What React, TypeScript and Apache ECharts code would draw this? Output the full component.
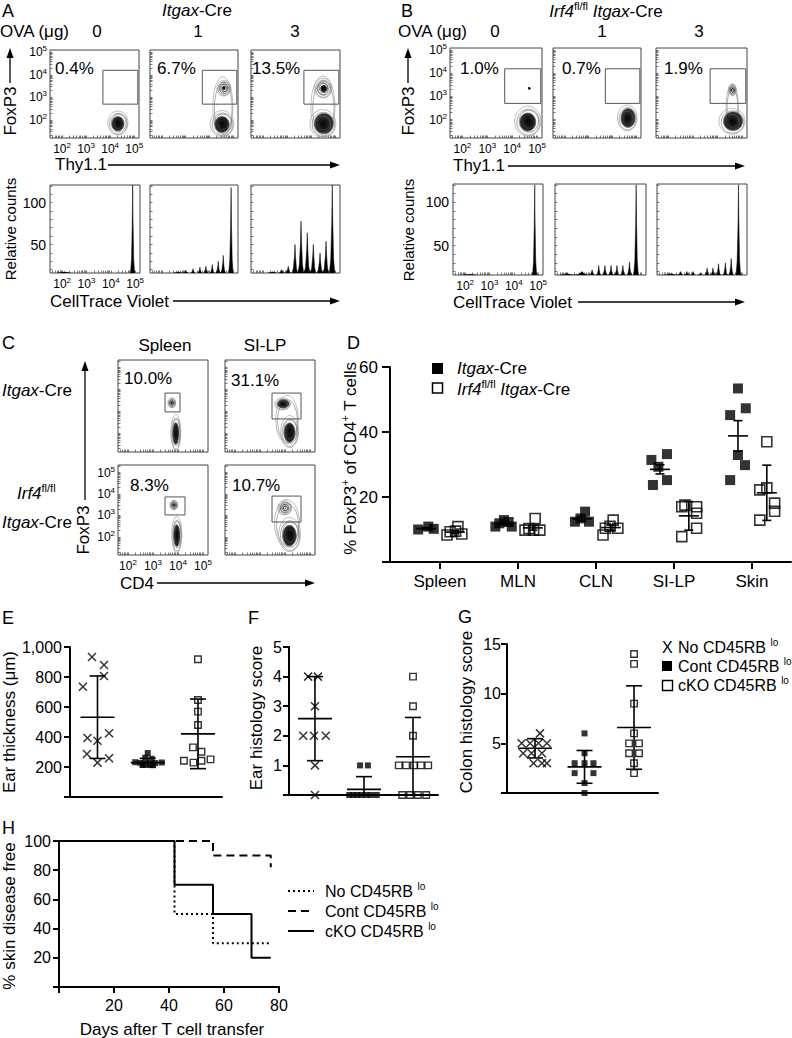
import React, { useEffect, useRef } from 'react';
import * as echarts from 'echarts';

const FONT = '"Liberation Sans", Arial, Helvetica, sans-serif';

// ================= DATA =================
// ---- Panels A / B : OVA dose response (log10 units) ----
const ovaDoses = ['0', '1', '3'];
const percentA = ['0.4%', '6.7%', '13.5%'];
const percentB = ['1.0%', '0.7%', '1.9%'];
const gateAB = [3.7, 2.7, 5.15, 4.2];
// contour populations: [Thy1.1, FoxP3, spread x, spread y, density]
const contoursA = [
  [[4.34, 1.85, 0.42, 0.53, 0.6]],
  [[4.58, 2.55, 0.42, 1.32, 0], [4.55, 1.82, 0.5, 0.58, 0.6], [4.62, 3.4, 0.29, 0.35, 0.15]],
  [[4.51, 2.55, 0.5, 1.36, 0], [4.51, 1.82, 0.54, 0.62, 0.65], [4.51, 3.4, 0.37, 0.44, 0.3]],
];
const contoursB = [
  [[4.65, 1.91, 0.53, 0.65, 0.6], [4.69, 3.35, 0.03, 0.03, 1]],
  [[4.64, 2.05, 0.41, 0.56, 0.65]],
  [[4.61, 2.5, 0.25, 1.0, 0], [4.61, 1.91, 0.53, 0.56, 0.65], [4.61, 3.28, 0.16, 0.26, 0.01]],
];
// histogram peaks: [CellTrace Violet log10, relative count, half width]
const histA = [
  [[4.9, 122, 0.09], [2.1, 17.5, 0.3]],
  [[4.91, 118, 0.1], [4.58, 37, 0.11], [4.37, 30, 0.1], [4.12, 26, 0.1], [3.85, 24, 0.1], [3.6, 23, 0.1], [3.31, 21, 0.1], [3.01, 19, 0.12], [2.7, 17.5, 0.2]],
  [[4.88, 121, 0.12], [4.62, 54, 0.13], [4.37, 40, 0.13], [4.09, 50, 0.13], [3.84, 64, 0.13], [3.58, 78, 0.13], [3.33, 50, 0.13], [3.05, 24, 0.13], [2.78, 20, 0.13], [2.4, 17.5, 0.2]],
];
const histB = [
  [[4.86, 120, 0.09], [2.2, 17, 0.3]],
  [[4.8, 120, 0.1], [4.53, 31, 0.1], [4.26, 27, 0.1], [4.02, 27, 0.1], [3.78, 27, 0.1], [3.53, 27, 0.1], [3.28, 27, 0.1], [3.01, 22, 0.12], [2.6, 20, 0.3], [2.0, 18, 0.3]],
  [[4.85, 120, 0.1], [4.55, 35, 0.1], [4.31, 30, 0.1], [4.03, 29, 0.1], [3.8, 24, 0.1], [3.56, 24, 0.1], [3.28, 18.5, 0.1], [2.99, 20, 0.1], [2.73, 20, 0.1], [2.46, 20, 0.12], [2.1, 18, 0.25]],
];

// ---- Panel C ----
const cColumns = ['Spleen', 'SI-LP'];
const percentC = ['10.0%', '31.1%', '8.3%', '10.7%'];
const gatesC = [
  [3.48, 2.98, 4.08, 3.84],
  [3.48, 2.66, 4.64, 3.84],
  [3.48, 3.02, 4.28, 3.86],
  [3.48, 2.69, 4.64, 3.9],
];
const contoursC = [
  [[3.92, 2.02, 0.2, 0.82, 0.6], [3.76, 3.39, 0.16, 0.23, 0.2]],
  [[4.1, 2.6, 0.45, 1.1, 0], [4.2, 2.06, 0.36, 0.73, 0.6], [3.92, 3.34, 0.32, 0.27, 0.75]],
  [[3.96, 2.08, 0.2, 0.84, 0.6], [3.84, 3.48, 0.16, 0.23, 0.2]],
  [[4.1, 2.6, 0.5, 1.1, 0], [4.2, 2.08, 0.44, 0.8, 0.55], [4.0, 3.34, 0.28, 0.33, 0.01]],
];

// ---- Panel D ----
const dCategories = ['Spleen', 'MLN', 'CLN', 'SI-LP', 'Skin'];
const dCtrlValues = [[10.0, 10.9, 10.2], [10.9, 11.9, 12.9, 12.3, 10.9], [12.4, 13.4, 15.5, 12.4], [31.4, 33.2, 29.3, 25.2, 23.7], [53.4, 47.3, 45.2, 32.9, 29.8, 25.2]];
const dCtrlJitter = [[-0.28, -0.15, -0.08], [-0.29, -0.24, -0.18, -0.12, -0.08], [-0.27, -0.2, -0.14, -0.09], [-0.29, -0.09, -0.2, -0.09, -0.27], [-0.18, -0.08, -0.28, -0.18, -0.09, -0.28]];
const dKoValues = [[8.3, 9.3, 10.9, 8.6, 9.5], [9.8, 10.3, 13.4, 9.8, 9.8], [8.3, 10.4, 12.9, 10.4, 11.0], [17.0, 17.5, 17.0, 15.0, 10.4, 7.8], [37.0, 22.2, 22.8, 18.1, 15.6, 12.9]];
const dKoJitter = [[0.09, 0.13, 0.23, 0.28, 0.2], [0.09, 0.14, 0.22, 0.2, 0.28], [0.09, 0.12, 0.22, 0.28, 0.18], [0.1, 0.14, 0.29, 0.29, 0.29, 0.1], [0.19, 0.1, 0.19, 0.29, 0.29, 0.1]];
const dCtrlMean = [10.3, 11.8, 13.3, 28.5, 38.8];
const dCtrlErr = [0.3, 0.4, 0.7, 1.4, 4.7];
const dKoMean = [9.2, 10.5, 10.6, 14.2, 21.3];
const dKoErr = [0.5, 0.7, 0.8, 4.4, 8.5];

// ---- Panel E : ear thickness ----
const eNoValues = [933, 735, 880, 807, 393, 375, 425, 287, 229, 258];
const eNoJitter = [-0.11, -0.29, 0.13, 0.13, -0.2, 0, 0.23, -0.21, 0, 0.23];
const eContValues = [293, 262, 255, 232, 228, 225, 222, 226, 230, 215, 212];
const eContJitter = [0, -0.05, 0.08, -0.25, -0.15, -0.05, 0.05, 0.15, 0.28, -0.1, 0.1];
const eKoValues = [918, 647, 569, 480, 331, 302, 242, 229, 242, 251];
const eKoJitter = [0, 0, 0, 0, -0.1, 0.07, -0.28, -0.09, 0.07, 0.25];
const eMean = [532, 229, 421];
const eSd = [275, 29, 232];

// ---- Panel F : ear histology ----
const fNoValues = [4, 4, 3, 2, 2, 2, 1, 0];
const fNoJitter = [-0.14, 0.06, 0, -0.24, -0.02, 0.22, 0, 0];
const fContValues = [1, 1, 0, 0, 0, 0, 0, 0, 0];
const fContJitter = [-0.08, 0.08, -0.3, -0.22, -0.14, -0.06, 0.04, 0.14, 0.26];
const fKoValues = [4, 3, 2, 1, 1, 1, 1, 1, 0, 0, 0, 0];
const fKoJitter = [0, 0, 0, -0.29, -0.14, 0.02, 0.16, 0.31, -0.22, -0.06, 0.1, 0.27];
const fMean = [2.58, 0.19, 1.29];
const fSd = [1.42, 0.43, 1.33];

// ---- Panel G : colon histology ----
const gNoValues = [6, 5, 5, 5, 5, 4, 4, 4, 3, 3, 3];
const gNoJitter = [0.1, -0.27, -0.1, 0.07, 0.24, -0.24, -0.07, 0.14, -0.03, 0.14, 0.24];
const gContValues = [6, 4, 3, 3, 3, 2, 2, 1, 0];
const gContJitter = [0, 0, -0.2, 0, 0.18, -0.2, 0.18, 0, 0];
const gKoValues = [14, 13, 9, 6, 5, 5, 4, 4, 3, 2];
const gKoJitter = [0, 0, 0, 0, -0.1, 0.1, -0.1, 0.1, 0, 0];
const gMean = [4.5, 2.63, 6.59];
const gSd = [0.97, 1.65, 4.2];
const groupNames = ['No CD45RB', 'Cont CD45RB', 'cKO CD45RB'];

// ---- Panel H : survival ----
const hNoDays = [0, 42, 56, 77];
const hNoFree = [100, 50, 30, 30];
const hContDays = [0, 56, 77, 77];
const hContFree = [100, 90, 90, 82];
const hKoDays = [0, 42, 56, 70, 77];
const hKoFree = [100, 70, 50, 20, 20];

// ================= LAYOUT =================
const A_CONTOUR_BOX = [[50, 50, 89, 88], [150, 50, 88, 88], [251, 50, 89, 88]];
const A_HIST_BOX = [[50, 185, 90, 88], [150, 185, 88, 88], [251, 185, 89, 88]];
const B_CONTOUR_BOX = [[450, 48, 92, 90], [553, 48, 88, 90], [656, 48, 91, 90]];
const B_HIST_BOX = [[453, 184, 90, 91], [555, 184, 91, 91], [657, 184, 90, 91]];
const C_BOX = [[118, 360, 90, 92], [225, 360, 90, 92], [118, 465, 90, 90], [225, 465, 90, 90]];

const LOG_TICKS: number[] = [];
for (let d = 1; d <= 5; d++) for (let k = 1; k <= 9; k++) LOG_TICKS.push(d + Math.log10(k));

const AX_RICH = {
  b: { fontSize: 12, fontFamily: FONT, color: '#000', lineHeight: 15, fontWeight: 'normal' },
  s: { fontSize: 8, fontFamily: FONT, color: '#000', verticalAlign: 'top', lineHeight: 15, fontWeight: 'normal' },
};

const logAxis = (min: number, max: number, labels: boolean) => ({
  type: 'value', min, max,
  axisLine: { show: false, onZero: false },
  splitLine: { show: false },
  axisTick: {
    show: true, inside: true, length: 2.5,
    customValues: LOG_TICKS.filter((v) => v > min + 0.02 && v < max - 0.02),
    lineStyle: { color: '#555', width: 0.8 },
  },
  axisLabel: labels
    ? { show: true, customValues: [2, 3, 4, 5], formatter: (v: number) => `{b|10}{s|${Math.round(v)}}`, rich: AX_RICH, margin: 3 }
    : { show: false },
});

const histAxisY = (labels: boolean) => ({
  type: 'value', min: 16, max: 121,
  axisLine: { show: false, onZero: false },
  splitLine: { show: false },
  axisTick: { show: true, inside: true, length: 2.5, customValues: [20, 30, 40, 50, 60, 70, 80, 90, 100, 110, 120], lineStyle: { color: '#555', width: 0.8 } },
  axisLabel: labels ? { show: true, customValues: [50, 100], fontSize: 14, fontFamily: FONT, color: '#000', margin: 4 } : { show: false },
});

// ================= RENDERERS =================
const contourItem = (_p: any, api: any) => {
  const c = api.coord([api.value(0), api.value(1)]);
  const s = api.size([api.value(2), api.value(3)]);
  const dens = api.value(4);
  const rings = dens === 0 ? 2 : 7;
  const filled = Math.round(dens * 7);
  const children: any[] = [];
  for (let i = 0; i < rings; i++) {
    const f = dens === 0 ? 1 - i * 0.12 : 1 - i / 7.5;
    const isFill = dens > 0 && i >= 7 - filled;
    const g = Math.round(160 - (i / 6) * 140);
    const fg = Math.round(60 - (i / 6) * 50);
    children.push({
      type: 'ellipse',
      shape: {
        cx: c[0] + ((i % 3) - 1) * s[0] * 0.04,
        cy: c[1] + ((i % 2) ? 1 : -1) * s[1] * 0.03,
        rx: Math.max(s[0] * f, 0.8),
        ry: Math.max(s[1] * f, 0.8),
      },
      style: { fill: isFill ? `rgb(${fg},${fg},${fg})` : 'none', stroke: `rgb(${g},${g},${g})`, lineWidth: 0.7 },
    });
  }
  return { type: 'group', children };
};

const gateItem = (_p: any, api: any) => {
  const p0 = api.coord([api.value(0), api.value(1)]);
  const p1 = api.coord([api.value(2), api.value(3)]);
  return {
    type: 'rect',
    shape: { x: Math.min(p0[0], p1[0]), y: Math.min(p0[1], p1[1]), width: Math.abs(p1[0] - p0[0]), height: Math.abs(p1[1] - p0[1]) },
    style: { fill: 'none', stroke: '#555', lineWidth: 1 },
  };
};

const peakItem = (base: number) => (_p: any, api: any) => {
  const c = api.value(0), h = api.value(1), w = api.value(2);
  const d = h - base;
  const pts = [
    [c - w, base], [c - w * 0.55, base + d * 0.15], [c - w * 0.2, base + d * 0.55], [c, h],
    [c + w * 0.15, base + d * 0.6], [c + w * 0.45, base + d * 0.16], [c + w * 0.85, base],
  ].map((p) => api.coord(p));
  return { type: 'polygon', shape: { points: pts }, style: { fill: '#000', stroke: '#000', lineWidth: 0.5 } };
};

const meanErrItem = (meanHalf: number, capHalf: number, yMin: number) => (_p: any, api: any) => {
  const x = api.value(0), m = api.value(1), e = api.value(2);
  const pm = api.coord([x, m]);
  const pt = api.coord([x, m + e]);
  const low = m - e;
  const pb = api.coord([x, Math.max(low, yMin)]);
  const st = { stroke: '#000', lineWidth: 1.6 };
  const ch: any[] = [
    { type: 'line', shape: { x1: pm[0] - meanHalf, y1: pm[1], x2: pm[0] + meanHalf, y2: pm[1] }, style: st },
    { type: 'line', shape: { x1: pm[0], y1: pt[1], x2: pm[0], y2: pb[1] }, style: st },
    { type: 'line', shape: { x1: pm[0] - capHalf, y1: pt[1], x2: pm[0] + capHalf, y2: pt[1] }, style: st },
  ];
  if (low > yMin) ch.push({ type: 'line', shape: { x1: pm[0] - capHalf, y1: pb[1], x2: pm[0] + capHalf, y2: pb[1] }, style: st });
  return { type: 'group', children: ch };
};

const X_SYMBOL = 'path://M0,0L10,10M10,0L0,10';

let measureCtx: CanvasRenderingContext2D | null = null;
const measure = (text: string, size: number, italic: boolean) => {
  if (!measureCtx) measureCtx = document.createElement('canvas').getContext('2d');
  if (!measureCtx) return text.length * size * 0.55;
  measureCtx.font = `${italic ? 'italic ' : ''}normal ${size}px ${FONT}`;
  return measureCtx.measureText(text).width;
};

function buildOption() {
  const grid: any[] = [], xAxis: any[] = [], yAxis: any[] = [], series: any[] = [], graphic: any[] = [];

  const addGrid = (box: number[], frame: boolean, x: any, y: any) => {
    const gi = grid.length;
    grid.push({
      left: box[0], top: box[1], width: box[2], height: box[3],
      containLabel: false, outerBoundsMode: 'none',
      show: frame, borderColor: '#444', borderWidth: 1, backgroundColor: 'transparent',
    });
    xAxis.push({ ...x, gridIndex: gi });
    yAxis.push({ ...y, gridIndex: gi });
    return gi;
  };
  const custom = (gi: number, data: any[], renderItem: any, z = 3) => ({
    type: 'custom', xAxisIndex: gi, yAxisIndex: gi, data, renderItem, silent: true, clip: true, z,
  });
  const dots = (gi: number, values: number[], jitter: number[], center: number, kind: string, size: number) => ({
    type: 'scatter', xAxisIndex: gi, yAxisIndex: gi, silent: true, z: 4,
    data: values.map((v, k) => [center + jitter[k], v]),
    symbol: kind === 'x' ? X_SYMBOL : 'rect', symbolSize: size,
    itemStyle: kind === 'filled' ? { color: '#000' } : { color: 'rgba(0,0,0,0)', borderColor: '#000', borderWidth: kind === 'x' ? 1.5 : 1.4 },
  });

  // ---- text helpers ----
  const ROT = Math.PI / 2;
  const T = (x: number, y: number, text: string, size = 17, o: any = {}) => {
    graphic.push({
      type: 'text', x, y, rotation: o.rot || 0, silent: true, z: 20,
      style: {
        text, fontSize: size, fontFamily: FONT, fontStyle: 'normal', fontWeight: 'normal', fill: '#000',
        align: o.align || 'left', verticalAlign: 'middle',
      },
    });
  };
  // sequence of text runs: kind 'n' normal, 'i' italic, 's' superscript
  const S = (x: number, y: number, parts: [string, string][], size = 17, o: any = {}) => {
    const supSize = Math.round(size * 0.62);
    const widths = parts.map(([t, k]) => measure(t, k === 's' ? supSize : size, k === 'i'));
    const W = widths.reduce((a, b) => a + b, 0);
    let a = o.align === 'center' ? -W / 2 : 0;
    const children = parts.map(([t, k], idx) => {
      const el = {
        type: 'text', x: a, y: k === 's' ? -size * 0.28 : 0, silent: true,
        style: {
          text: t, fontSize: k === 's' ? supSize : size, fontFamily: FONT,
          fontStyle: k === 'i' ? 'italic' : 'normal', fontWeight: 'normal', fill: '#000',
          align: 'left', verticalAlign: 'middle',
        },
      };
      a += widths[idx];
      return el;
    });
    graphic.push({ type: 'group', x, y, rotation: o.rot || 0, silent: true, z: 20, children });
  };
  const arrowRight = (x1: number, x2: number, y: number) => {
    graphic.push({ type: 'line', silent: true, shape: { x1, y1: y, x2: x2 - 5, y2: y }, style: { stroke: '#000', lineWidth: 1.3 } });
    graphic.push({ type: 'polygon', silent: true, shape: { points: [[x2, y], [x2 - 10, y - 3.5], [x2 - 10, y + 3.5]] }, style: { fill: '#000' } });
  };
  const arrowUp = (x: number, yBottom: number, yTop: number) => {
    graphic.push({ type: 'line', silent: true, shape: { x1: x, y1: yBottom, x2: x, y2: yTop + 5 }, style: { stroke: '#000', lineWidth: 1.3 } });
    graphic.push({ type: 'polygon', silent: true, shape: { points: [[x, yTop], [x - 3.5, yTop + 10], [x + 3.5, yTop + 10]] }, style: { fill: '#000' } });
  };
  const ITGAX: [string, string][] = [['Itgax', 'i'], ['-Cre', 'n']];
  const IRF4: [string, string][] = [['Irf4', 'i'], ['fl/fl', 's']];
  const IRF4_ITGAX: [string, string][] = [...IRF4, [' ', 'n'], ...ITGAX];

  // ================= A & B =================
  const flowPanel = (contBoxes: number[][], histBoxes: number[][], contours: number[][][], hists: number[][][]) => {
    for (let i = 0; i < 3; i++) {
      const gi = addGrid(contBoxes[i], true, logAxis(1.5, 5.2, i === 0), logAxis(1.2, 5.1, i === 0));
      series.push(custom(gi, [gateAB], gateItem, 3));
      series.push(custom(gi, contours[i], contourItem, 2));
      const hi = addGrid(histBoxes[i], true, logAxis(1.5, 5.2, i === 0), histAxisY(i === 0));
      series.push(custom(hi, hists[i], peakItem(16), 2));
    }
  };
  flowPanel(A_CONTOUR_BOX, A_HIST_BOX, contoursA, histA);
  flowPanel(B_CONTOUR_BOX, B_HIST_BOX, contoursB, histB);

  T(2, 11, 'A', 18);
  T(401, 11, 'B', 18);
  S(197, 10, ITGAX, 17, { align: 'center' });
  S(606, 11, IRF4_ITGAX, 17, { align: 'center' });
  T(0, 31, 'OVA (μg)', 17);
  T(398, 31, 'OVA (μg)', 17);
  const doseXA = [97, 198, 295];
  const doseXB = [495, 602, 699];
  const pctXA = [55, 157, 252];
  const pctXB = [460, 562, 664];
  ovaDoses.forEach((d, i) => {
    T(doseXA[i], 31, d, 17, { align: 'center' });
    T(doseXB[i], 31, d, 17, { align: 'center' });
    T(pctXA[i], 68, percentA[i], 17);
    T(pctXB[i], 68, percentB[i], 17);
  });
  T(10, 111, 'FoxP3', 17, { rot: ROT, align: 'center' });
  arrowUp(10, 83, 48);
  T(408, 111, 'FoxP3', 17, { rot: ROT, align: 'center' });
  arrowUp(408, 83, 48);
  T(55, 164, 'Thy1.1', 17);
  arrowRight(108, 340, 165);
  T(453, 165, 'Thy1.1', 17);
  arrowRight(508, 745, 166);
  T(10, 229, 'Relative counts', 15, { rot: ROT, align: 'center' });
  T(408, 230, 'Relative counts', 15, { rot: ROT, align: 'center' });
  T(50, 301, 'CellTrace Violet', 17);
  arrowRight(173, 340, 301);
  T(453, 302, 'CellTrace Violet', 17);
  arrowRight(578, 745, 302);

  // ================= C =================
  for (let i = 0; i < 4; i++) {
    const lab = i === 2;
    const gi = addGrid(C_BOX[i], true, logAxis(1.6, 5.2, lab), logAxis(1.15, 5.35, lab));
    series.push(custom(gi, [gatesC[i]], gateItem, 3));
    series.push(custom(gi, contoursC[i], contourItem, 2));
  }
  T(2, 343, 'C', 18);
  T(165, 345, cColumns[0], 17, { align: 'center' });
  T(265, 345, cColumns[1], 17, { align: 'center' });
  S(2, 390, ITGAX, 17);
  S(17, 493, IRF4, 17);
  S(2, 522, ITGAX, 17);
  T(83, 530, 'FoxP3', 17, { rot: ROT, align: 'center' });
  arrowUp(85, 500, 361);
  T(120, 583, 'CD4', 17);
  arrowRight(157, 315, 583);
  const pctC = [[124, 378], [231, 380], [130, 485], [232, 485]];
  percentC.forEach((p, i) => T(pctC[i][0], pctC[i][1], p, 17));

  // ================= D =================
  const gD = addGrid([390, 367, 401, 195], false,
    {
      type: 'value', min: -0.641, max: 4.5,
      axisLine: { show: true, onZero: false, lineStyle: { color: '#000', width: 2 } },
      axisTick: { show: true, customValues: [0, 1, 2, 3, 4], length: 7, lineStyle: { color: '#000', width: 2 } },
      axisLabel: { show: true, customValues: [0, 1, 2, 3, 4], formatter: (v: number) => dCategories[Math.round(v)], fontSize: 17, fontFamily: FONT, color: '#000', margin: 11 },
      splitLine: { show: false },
    },
    {
      type: 'value', min: 0, max: 60, interval: 20,
      axisLine: { show: true, onZero: false, lineStyle: { color: '#000', width: 2 } },
      axisTick: { show: true, length: 8, lineStyle: { color: '#000', width: 2 } },
      axisLabel: { formatter: (v: number) => (v === 0 ? '' : String(v)), fontSize: 17, fontFamily: FONT, color: '#000', margin: 12 },
      splitLine: { show: false },
    });
  const dCtrlData: number[][] = [], dKoData: number[][] = [];
  dCategories.forEach((_c, i) => {
    dCtrlValues[i].forEach((v, k) => dCtrlData.push([i + dCtrlJitter[i][k], v]));
    dKoValues[i].forEach((v, k) => dKoData.push([i + dKoJitter[i][k], v]));
  });
  series.push({ type: 'scatter', xAxisIndex: gD, yAxisIndex: gD, silent: true, z: 4, data: dCtrlData, symbol: 'rect', symbolSize: 10, itemStyle: { color: '#000' } });
  series.push({ type: 'scatter', xAxisIndex: gD, yAxisIndex: gD, silent: true, z: 4, data: dKoData, symbol: 'rect', symbolSize: 10, itemStyle: { color: 'rgba(0,0,0,0)', borderColor: '#000', borderWidth: 1.6 } });
  const CTRL_SHIFT = -0.18, KO_SHIFT = 0.19;
  series.push(custom(gD, dCtrlMean.map((m, i) => [i + CTRL_SHIFT, m, dCtrlErr[i]]), meanErrItem(10, 4.5, 0), 5));
  series.push(custom(gD, dKoMean.map((m, i) => [i + KO_SHIFT, m, dKoErr[i]]), meanErrItem(10, 4.5, 0), 5));
  T(347, 343, 'D', 18);
  S(350, 458, [['% FoxP3', 'n'], ['+', 's'], [' of CD4', 'n'], ['+', 's'], [' T cells', 'n']], 17, { rot: ROT, align: 'center' });
  graphic.push({ type: 'rect', silent: true, shape: { x: 432, y: 363, width: 11, height: 11 }, style: { fill: '#000' } });
  graphic.push({ type: 'rect', silent: true, shape: { x: 432.5, y: 383, width: 10, height: 10 }, style: { fill: 'none', stroke: '#000', lineWidth: 1.5 } });
  S(457, 368, ITGAX, 17);
  S(457, 389, IRF4_ITGAX, 17);

  // ================= E / F / G =================
  const dotAxisX = (min: number, max: number) => ({
    type: 'value', min, max,
    axisLine: { show: true, onZero: false, lineStyle: { color: '#000', width: 2 } },
    axisTick: { show: false }, axisLabel: { show: false }, splitLine: { show: false },
  });
  const dotAxisY = (min: number, max: number, interval: number, fmt: any, margin: number) => ({
    type: 'value', min, max, interval,
    axisLine: { show: true, onZero: false, lineStyle: { color: '#000', width: 2 } },
    axisTick: { show: true, length: 6, lineStyle: { color: '#000', width: 2 } },
    axisLabel: { formatter: fmt, fontSize: 16, fontFamily: FONT, color: '#000', margin },
    splitLine: { show: false },
  });
  const hide0 = (v: number) => (v === 0 ? '' : v.toLocaleString('en-US'));

  const gE = addGrid([70, 647, 152, 150], false, dotAxisX(0.453, 3.478), dotAxisY(0, 1000, 200, hide0, 8));
  series.push(dots(gE, eNoValues, eNoJitter, 1, 'x', 8));
  series.push(dots(gE, eContValues, eContJitter, 2, 'filled', 6));
  series.push(dots(gE, eKoValues, eKoJitter, 3, 'open', 6.5));
  series.push(custom(gE, eMean.map((m, i) => [i + 1, m, eSd[i]]), meanErrItem(17, 8, 0), 5));
  T(2, 618, 'E', 18);
  T(9, 722, 'Ear thickness (μm)', 17, { rot: ROT, align: 'center' });

  const gF = addGrid([289, 647, 149, 148], false, dotAxisX(0.47, 3.51), dotAxisY(0, 5, 1, hide0, 7));
  series.push(dots(gF, fNoValues, fNoJitter, 1, 'x', 8));
  series.push(dots(gF, fContValues, fContJitter, 2, 'filled', 6));
  series.push(dots(gF, fKoValues, fKoJitter, 3, 'open', 6.5));
  series.push(custom(gF, fMean.map((m, i) => [i + 1, m, fSd[i]]), meanErrItem(17, 8, 0), 5));
  T(248, 618, 'F', 18);
  T(256, 718, 'Ear histology score', 17, { rot: ROT, align: 'center' });

  const gG = addGrid([507, 644, 151, 149], false, dotAxisX(0.434, 3.484), dotAxisY(0, 15, 5, hide0, 6));
  series.push(dots(gG, gNoValues, gNoJitter, 1, 'x', 8));
  series.push(dots(gG, gContValues, gContJitter, 2, 'filled', 6));
  series.push(dots(gG, gKoValues, gKoJitter, 3, 'open', 6.5));
  series.push(custom(gG, gMean.map((m, i) => [i + 1, m, gSd[i]]), meanErrItem(17, 8, 0), 5));
  T(458, 617, 'G', 18);
  T(466, 712, 'Colon histology score', 17, { rot: ROT, align: 'center' });
  T(662, 647, 'X', 16);
  graphic.push({ type: 'rect', silent: true, shape: { x: 662, y: 661, width: 10, height: 10 }, style: { fill: '#000' } });
  graphic.push({ type: 'rect', silent: true, shape: { x: 662.5, y: 680.5, width: 10, height: 10 }, style: { fill: 'none', stroke: '#000', lineWidth: 1.4 } });
  const gLegY = [647, 666, 685];
  gLegY.forEach((y, i) => S(678, y, [[`${groupNames[i]} `, 'n'], ['lo', 's']], 16));

  // ================= H =================
  const gH = addGrid([59, 841, 220, 146], false,
    {
      type: 'value', min: 0, max: 80, interval: 20,
      axisLine: { show: true, onZero: false, lineStyle: { color: '#000', width: 2 } },
      axisTick: { show: true, length: 6, lineStyle: { color: '#000', width: 2 } },
      axisLabel: { formatter: hide0, fontSize: 16, fontFamily: FONT, color: '#000', margin: 10 },
      splitLine: { show: false },
    },
    dotAxisY(0, 100, 20, hide0, 8));
  const km = (days: number[], vals: number[], type: any) => ({
    type: 'line', xAxisIndex: gH, yAxisIndex: gH, step: 'end', symbol: 'none', silent: true,
    data: days.map((d, i) => [d, vals[i]]),
    lineStyle: { color: '#000', width: 2, type },
  });
  series.push(km(hNoDays, hNoFree, [2, 3]));
  series.push(km(hContDays, hContFree, [8, 5]));
  series.push(km(hKoDays, hKoFree, 'solid'));
  T(2, 828, 'H', 18);
  T(9, 916, '% skin disease free', 17, { rot: ROT, align: 'center' });
  T(172, 1029, 'Days after T cell transfer', 17, { align: 'center' });
  const legY = [891, 911, 931];
  const legDash: any[] = [[2, 3], [8, 5], null];
  legY.forEach((y, i) => {
    graphic.push({ type: 'line', silent: true, shape: { x1: 288, y1: y, x2: 314, y2: y }, style: { stroke: '#000', lineWidth: 2, lineDash: legDash[i] || undefined } });
    S(325, y, [[`${groupNames[i]} `, 'n'], ['lo', 's']], 16);
  });

  return {
    animation: false,
    backgroundColor: '#fff',
    textStyle: { fontFamily: FONT },
    grid, xAxis, yAxis, series, graphic,
  };
}

export default function App() {
  const ref = useRef<HTMLDivElement>(null);
  useEffect(() => {
    if (!ref.current) return;
    const chart = echarts.init(ref.current, undefined, { renderer: 'svg' });
    chart.setOption(buildOption() as any);
    return () => chart.dispose();
  }, []);
  return <div ref={ref} style={{ position: 'absolute', left: 0, top: 0, width: 792, height: 1038, background: '#fff' }} />;
}
